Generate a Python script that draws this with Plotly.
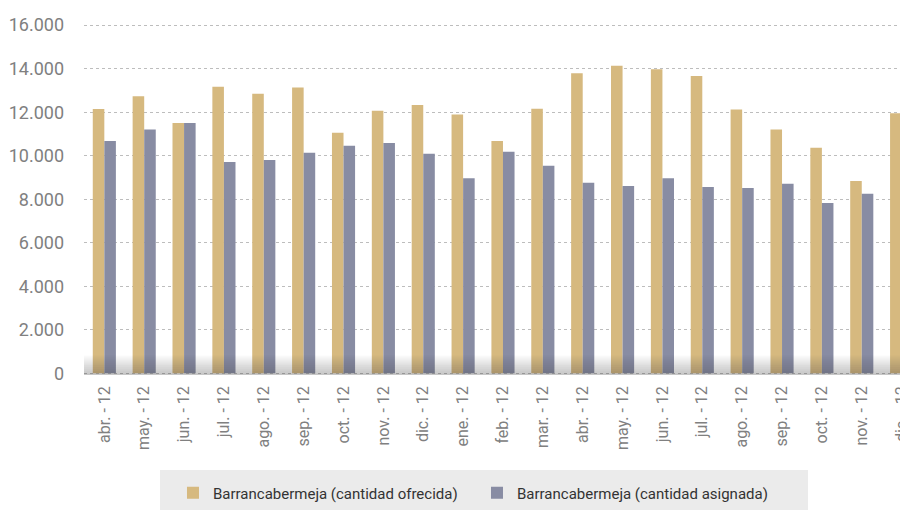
import plotly.graph_objects as go

tick_labels = ["abr. - 12", "may. - 12", "jun. - 12", "jul. - 12", "ago. - 12", "sep. - 12",
               "oct. - 12", "nov. - 12", "dic. - 12", "ene. - 12", "feb. - 12", "mar. - 12",
               "abr. - 12", "may. - 12", "jun. - 12", "jul. - 12", "ago. - 12", "sep. - 12",
               "oct. - 12", "nov. - 12", "dic. - 12"]
ofrecida = [12150, 12730, 11500, 13170, 12850, 13130, 11060, 12070, 12330, 11890, 10680,
            12160, 13790, 14140, 13970, 13660, 12120, 11200, 10370, 8840, 11950]
asignada = [10680, 11200, 11500, 9710, 9800, 10140, 10460, 10580, 10090, 8960, 10180,
            9540, 8760, 8610, 8960, 8560, 8510, 8710, 7830, 8250, 8040]
y_ticks = [0, 2000, 4000, 6000, 8000, 10000, 12000, 14000, 16000]

FONT = "Roboto, Liberation Sans, sans-serif"
x_idx = list(range(len(tick_labels)))

fig = go.Figure()
fig.add_trace(go.Bar(x=x_idx, y=ofrecida, name="Barrancabermeja (cantidad ofrecida)",
                     marker=dict(color="#D6B97F", line=dict(width=0))))
fig.add_trace(go.Bar(x=x_idx, y=asignada, name="Barrancabermeja (cantidad asignada)",
                     marker=dict(color="#888CA3", line=dict(width=0))))

shapes = []
# legend background box
shapes.append(dict(type="rect", xref="paper", yref="paper", x0=0.0922, x1=0.8786,
                   y0=-0.45, y1=-0.270, fillcolor="#EBEBEB", line=dict(width=0), layer="below"))
# floor shading gradient near baseline
n = 10
for k in range(1, n + 1):
    shapes.append(dict(type="rect", xref="paper", yref="paper", x0=0, x1=1,
                       y0=0, y1=0.055 * k / n, fillcolor="rgba(60,60,70,0.03)",
                       line=dict(width=0), layer="above"))

fig.update_layout(
    width=908, height=510,
    margin=dict(l=76, r=8, t=15, b=143, autoexpand=False),
    paper_bgcolor="white", plot_bgcolor="white",
    separators=",.",
    barmode="group", bargap=0.42, bargroupgap=0.0,
    font=dict(family=FONT, color="#808080"),
    showlegend=True,
    legend=dict(orientation="h", x=0.108, y=-0.335, xanchor="left", yanchor="middle",
                bgcolor="rgba(0,0,0,0)", font=dict(size=15, color="#333333", family=FONT),
                itemwidth=30, entrywidth=259, entrywidthmode="pixels"),
    shapes=shapes,
    xaxis=dict(range=[-0.51, 20.16], tickmode="array", tickvals=x_idx, ticktext=tick_labels,
               tickangle=-90, tickfont=dict(size=16, color="#808080", family=FONT),
               showgrid=False, zeroline=False, showline=False, ticks="",
               ticklabelstandoff=7, automargin=False),
    yaxis=dict(range=[-80, 16100], tickvals=y_ticks, tickformat=",d",
               tickfont=dict(size=18, color="#808080", family=FONT),
               showgrid=True, gridcolor="#BDBDBD", gridwidth=1, griddash="3px,3px",
               zeroline=False, showline=False, ticks="", ticklabelstandoff=19,
               automargin=False),
)

fig.write_html("out.html")
